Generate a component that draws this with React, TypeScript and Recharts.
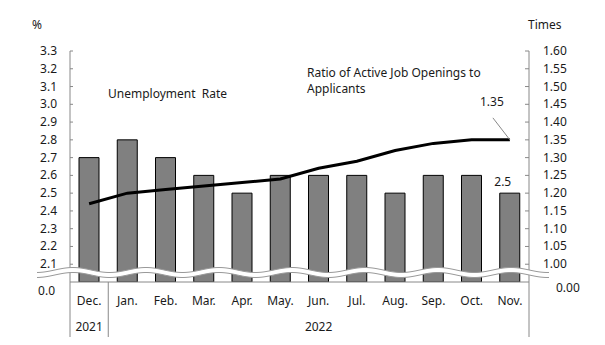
import React from "react";
import { ComposedChart, Bar, Line, XAxis, YAxis, LabelList } from "recharts";

// Dec 2021 - Nov 2022
const months = ["Dec.", "Jan.", "Feb.", "Mar.", "Apr.", "May.", "Jun.", "Jul.", "Aug.", "Sep.", "Oct.", "Nov."];
const unemploymentRate = [2.7, 2.8, 2.7, 2.6, 2.5, 2.6, 2.6, 2.6, 2.5, 2.6, 2.6, 2.5];
const jobRatio = [1.17, 1.2, 1.21, 1.22, 1.23, 1.24, 1.27, 1.29, 1.32, 1.34, 1.35, 1.35];
const leftTicks = [2.0, 2.1, 2.2, 2.3, 2.4, 2.5, 2.6, 2.7, 2.8, 2.9, 3.0, 3.1, 3.2, 3.3];
const rightTicks = [0.95, 1.0, 1.05, 1.1, 1.15, 1.2, 1.25, 1.3, 1.35, 1.4, 1.45, 1.5, 1.55, 1.6];

const data = months.map((m, i) => ({ month: m, rate: unemploymentRate[i], ratio: jobRatio[i] }));

const W = 605;
const H = 345;
const PLOT_LEFT = 70;
const PLOT_RIGHT = 529;
const BAND = (PLOT_RIGHT - PLOT_LEFT) / months.length;
const FONT = "'Noto Sans', sans-serif";
const TXT = "#1a1a1a";
const AXIS = "#888";

const LeftTick = (props: any) => {
  const { x, y, payload } = props;
  if (payload.value === 2.0) {
    return (
      <text x={x - 15} y={y + 13} textAnchor="end" fontSize={12} fill={TXT} fontFamily={FONT}>0.0</text>
    );
  }
  return (
    <g>
      <line x1={x} x2={x + 3} y1={y} y2={y} stroke={AXIS} />
      <text x={x - 13} y={y + 4} textAnchor="end" fontSize={12} fill={TXT} fontFamily={FONT}>
        {payload.value.toFixed(1)}
      </text>
    </g>
  );
};

const RightTick = (props: any) => {
  const { x, y, payload } = props;
  if (payload.value === 0.95) {
    return (
      <text x={x + 27} y={y + 10} textAnchor="start" fontSize={12} fill={TXT} fontFamily={FONT}>0.00</text>
    );
  }
  return (
    <g>
      <line x1={x - 4} x2={x} y1={y} y2={y} stroke={AXIS} />
      <text x={x + 14} y={y + 4} textAnchor="start" fontSize={12} fill={TXT} fontFamily={FONT}>
        {payload.value.toFixed(2)}
      </text>
    </g>
  );
};

const MonthTick = (props: any) => {
  const { x, y, payload, index } = props;
  return (
    <g>
      <text x={x} y={y + 23} textAnchor="middle" fontSize={12} fill={TXT} fontFamily={FONT}>{payload.value}</text>
      {index === 0 && (
        <>
          <line x1={x - BAND / 2} x2={x - BAND / 2} y1={y} y2={y + 55} stroke={AXIS} />
          <line x1={x + BAND / 2} x2={x + BAND / 2} y1={y} y2={y + 55} stroke={AXIS} />
          <text x={x} y={y + 49} textAnchor="middle" fontSize={12} fill={TXT} fontFamily={FONT}>2021</text>
        </>
      )}
      {index === 6 && (
        <text x={x} y={y + 49} textAnchor="middle" fontSize={12} fill={TXT} fontFamily={FONT}>2022</text>
      )}
      {index === months.length - 1 && (
        <line x1={x + BAND / 2} x2={x + BAND / 2} y1={y} y2={y + 55} stroke={AXIS} />
      )}
    </g>
  );
};

const RateLabel = (props: any) => {
  const { x, y, width, index, value } = props;
  if (index !== months.length - 1) return null;
  return (
    <text x={x + width / 2 - 7} y={y - 7} textAnchor="middle" fontSize={12} fill={TXT} fontFamily={FONT}>
      {value.toFixed(1)}
    </text>
  );
};

const RatioLabel = (props: any) => {
  const { x, y, index, value } = props;
  if (index !== months.length - 1) return null;
  return (
    <g>
      <line x1={x - 17} y1={y - 22} x2={x} y2={y} stroke={AXIS} />
      <text x={x - 18} y={y - 34} textAnchor="middle" fontSize={12} fill={TXT} fontFamily={FONT}>
        {value.toFixed(2)}
      </text>
    </g>
  );
};

// axis break band drawn across the bottom of the bars
function wavePath(offset: number) {
  const cy = 272.5 + offset;
  const pts: string[] = [];
  for (let x = 37; x <= 550; x += 2) {
    const y = cy - 2.5 * Math.cos(((x - 73) / 73) * 2 * Math.PI);
    pts.push(`${x},${y.toFixed(2)}`);
  }
  return pts;
}

const BreakBand = () => {
  const top = wavePath(-2.5);
  const bottom = wavePath(2.5);
  const fill = "M" + top.join(" L") + " L" + bottom.slice().reverse().join(" L") + " Z";
  return (
    <g>
      <path d={fill} fill="#fff" stroke="none" />
      <path d={"M" + top.join(" L")} fill="none" stroke="#999" strokeWidth={1} />
      <path d={"M" + bottom.join(" L")} fill="none" stroke="#999" strokeWidth={1} />
    </g>
  );
};

export default function App() {
  return (
    <div style={{ position: "absolute", left: 0, top: 0, width: W, height: H, background: "#fff" }}>
      <ComposedChart width={W} height={H} data={data} margin={{ top: 51, right: 0, bottom: 0, left: 0 }}>
        <XAxis
          dataKey="month"
          height={63}
          tickLine={false}
          tickSize={0}
          tickMargin={0}
          axisLine={{ stroke: AXIS }}
          tick={<MonthTick />}
          interval={0}
        />
        <YAxis
          yAxisId="left"
          orientation="left"
          width={70}
          domain={[2.0, 3.3]}
          ticks={leftTicks}
          interval={0}
          allowDataOverflow
          tickLine={false}
          tickSize={0}
          tickMargin={0}
          axisLine={{ stroke: AXIS }}
          tick={<LeftTick />}
        />
        <YAxis
          yAxisId="right"
          orientation="right"
          width={76}
          domain={[0.95, 1.6]}
          ticks={rightTicks}
          interval={0}
          allowDataOverflow
          tickLine={false}
          tickSize={0}
          tickMargin={0}
          axisLine={{ stroke: AXIS }}
          tick={<RightTick />}
        />
        <Bar yAxisId="left" dataKey="rate" barSize={20} fill="#808080" stroke="#000" strokeWidth={1} isAnimationActive={false}>
          <LabelList dataKey="rate" content={<RateLabel />} />
        </Bar>
        <Line yAxisId="right" type="linear" dataKey="ratio" stroke="#000" strokeWidth={3} dot={false} isAnimationActive={false}>
          <LabelList dataKey="ratio" content={<RatioLabel />} />
        </Line>
      </ComposedChart>
      <svg width={W} height={H} style={{ position: "absolute", left: 0, top: 0, pointerEvents: "none" }}>
        <BreakBand />
        <text x={32} y={29} fontSize={12} fill={TXT} fontFamily={FONT}>%</text>
        <text x={528} y={29} fontSize={12} fill={TXT} fontFamily={FONT}>Times</text>
        <text x={108} y={98} fontSize={12} fill={TXT} fontFamily={FONT} xmlSpace="preserve">Unemployment  Rate</text>
        <text x={307} y={77} fontSize={12} fill={TXT} fontFamily={FONT}>Ratio of Active Job Openings to</text>
        <text x={307} y={93} fontSize={12} fill={TXT} fontFamily={FONT}>Applicants</text>
      </svg>
    </div>
  );
}
